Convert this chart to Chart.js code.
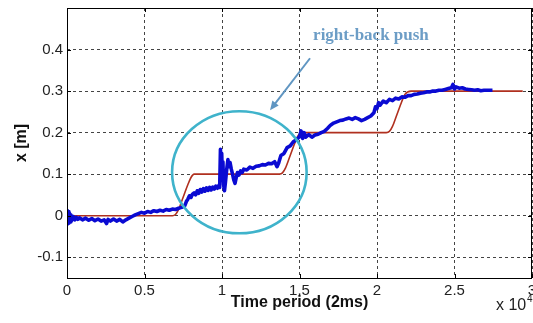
<!DOCTYPE html>
<html><head><meta charset="utf-8">
<script src="https://cdn.jsdelivr.net/npm/chart.js@4"></script>
<style>html,body{margin:0;padding:0;background:#fff;}#wrap{width:533px;height:323px;}</style>
</head><body><div id="wrap"><canvas id="c" width="533" height="323"></canvas></div>
<script>
// ---- data (x in units of 10^4 samples, y in metres) ----
const xTickValues = [0, 0.5, 1, 1.5, 2, 2.5, 3];
const yTickValues = [-0.1, 0, 0.1, 0.2, 0.3, 0.4];
const xAxisTitle = 'Time period (2ms)';
const yAxisTitle = 'x [m]';
const annotationLabel = 'right-back push';

const refX = [0, 0.68, 0.70, 0.72, 0.75, 0.78, 0.80, 0.82, 1.37, 1.39, 1.41, 1.44, 1.47, 1.49, 1.52, 2.06, 2.08, 2.10, 2.13, 2.16, 2.18, 2.22, 2.94];
const refY = [0, 0, 0.003, 0.015, 0.045, 0.075, 0.092, 0.1, 0.1, 0.103, 0.115, 0.145, 0.175, 0.192, 0.2, 0.2, 0.203, 0.215, 0.245, 0.275, 0.292, 0.3, 0.3];

const measX = [0.000,0.004,0.008,0.012,0.016,0.020,0.025,0.030,0.040,0.050,0.060,0.070,0.080,0.100,0.120,0.140,0.160,0.180,0.200,0.220,0.240,0.255,0.265,0.280,0.300,0.320,0.340,0.360,0.380,0.400,0.420,0.440,0.460,0.480,0.500,0.520,0.540,0.560,0.580,0.600,0.620,0.640,0.660,0.680,0.700,0.720,0.740,0.760,0.770,0.780,0.790,0.800,0.810,0.820,0.830,0.840,0.850,0.860,0.870,0.880,0.890,0.900,0.910,0.920,0.930,0.940,0.950,0.960,0.970,0.980,0.985,0.990,0.994,0.998,1.002,1.006,1.010,1.016,1.022,1.030,1.038,1.045,1.052,1.060,1.068,1.076,1.084,1.092,1.100,1.110,1.120,1.130,1.140,1.160,1.180,1.200,1.220,1.240,1.260,1.280,1.300,1.320,1.340,1.355,1.365,1.380,1.400,1.420,1.440,1.460,1.480,1.500,1.510,1.520,1.530,1.540,1.560,1.580,1.600,1.620,1.640,1.660,1.680,1.700,1.720,1.740,1.760,1.780,1.800,1.820,1.840,1.860,1.880,1.900,1.920,1.940,1.960,1.980,1.990,2.000,2.010,2.020,2.040,2.060,2.080,2.100,2.120,2.140,2.160,2.180,2.200,2.220,2.240,2.260,2.280,2.300,2.320,2.340,2.360,2.380,2.400,2.420,2.440,2.460,2.480,2.490,2.500,2.510,2.530,2.550,2.570,2.590,2.610,2.630,2.650,2.670,2.690,2.710,2.730,2.745];
const measY = [0.012,-0.020,0.010,-0.018,0.006,-0.015,0.002,-0.012,-0.002,-0.010,-0.004,-0.009,-0.005,-0.010,-0.006,-0.011,-0.007,-0.012,-0.008,-0.013,-0.010,-0.019,-0.009,-0.013,-0.008,-0.013,-0.009,-0.015,-0.010,-0.006,-0.002,0.002,0.005,0.008,0.006,0.010,0.008,0.012,0.010,0.013,0.011,0.015,0.013,0.016,0.015,0.018,0.020,0.024,0.034,0.040,0.048,0.044,0.052,0.055,0.050,0.060,0.054,0.063,0.057,0.065,0.059,0.067,0.061,0.068,0.062,0.069,0.064,0.071,0.066,0.073,0.068,0.160,0.085,0.150,0.100,0.130,0.075,0.060,0.080,0.110,0.135,0.118,0.128,0.112,0.100,0.086,0.078,0.092,0.104,0.098,0.108,0.104,0.112,0.110,0.117,0.114,0.119,0.120,0.123,0.122,0.126,0.125,0.130,0.118,0.126,0.145,0.150,0.164,0.168,0.178,0.183,0.190,0.204,0.186,0.200,0.189,0.195,0.189,0.194,0.196,0.200,0.203,0.210,0.218,0.223,0.226,0.229,0.230,0.233,0.235,0.232,0.236,0.233,0.229,0.232,0.236,0.240,0.248,0.262,0.258,0.272,0.266,0.276,0.272,0.280,0.277,0.283,0.281,0.286,0.285,0.289,0.289,0.292,0.293,0.295,0.296,0.298,0.298,0.300,0.300,0.302,0.302,0.304,0.306,0.308,0.316,0.305,0.310,0.307,0.308,0.305,0.304,0.303,0.302,0.303,0.301,0.302,0.302,0.302,0.302];

// ---- annotation geometry (data units) ----
const circleAnno = { cx: 1.112, cy: 0.1046, rx: 0.434, ry: 0.147 };
const arrowAnno = { x0: 1.568, y0: 0.379, x1: 1.31, y1: 0.254 };
const labelAnno = { x: 1.961, y: 0.433 };

const toPts = (xs, ys) => xs.map((x, i) => ({ x: x, y: ys[i] }));

const decor = {
  id: 'decor',
  afterDatasetsDraw(chart) {
    const { ctx, chartArea: a, scales: { x, y } } = chart;
    ctx.save();
    // circle
    ctx.beginPath();
    const cx = x.getPixelForValue(circleAnno.cx), cy = y.getPixelForValue(circleAnno.cy);
    const rx = x.getPixelForValue(circleAnno.cx + circleAnno.rx) - cx;
    const ry = cy - y.getPixelForValue(circleAnno.cy + circleAnno.ry);
    ctx.ellipse(cx, cy, rx, ry, 0, 0, Math.PI * 2);
    ctx.strokeStyle = '#3fb3cb';
    ctx.lineWidth = 2.6;
    ctx.stroke();
    // arrow
    const ax0 = x.getPixelForValue(arrowAnno.x0), ay0 = y.getPixelForValue(arrowAnno.y0);
    const ax1 = x.getPixelForValue(arrowAnno.x1), ay1 = y.getPixelForValue(arrowAnno.y1);
    const ang = Math.atan2(ay1 - ay0, ax1 - ax0);
    ctx.strokeStyle = '#6096c2';
    ctx.fillStyle = '#6096c2';
    ctx.lineWidth = 2;
    ctx.beginPath();
    ctx.moveTo(ax0, ay0);
    ctx.lineTo(ax1 - 6 * Math.cos(ang), ay1 - 6 * Math.sin(ang));
    ctx.stroke();
    ctx.beginPath();
    ctx.moveTo(ax1, ay1);
    ctx.lineTo(ax1 - 9 * Math.cos(ang) + 4 * Math.sin(ang), ay1 - 9 * Math.sin(ang) - 4 * Math.cos(ang));
    ctx.lineTo(ax1 - 9 * Math.cos(ang) - 4 * Math.sin(ang), ay1 - 9 * Math.sin(ang) + 4 * Math.cos(ang));
    ctx.closePath();
    ctx.fill();
    // label
    ctx.font = 'bold 17px "Liberation Serif", "Times New Roman", serif';
    ctx.fillStyle = '#6c9dc6';
    ctx.textAlign = 'center';
    ctx.textBaseline = 'middle';
    ctx.fillText(annotationLabel, x.getPixelForValue(labelAnno.x), y.getPixelForValue(labelAnno.y));
    // box
    ctx.strokeStyle = '#000';
    ctx.lineWidth = 1;
    ctx.strokeRect(Math.round(a.left) + 0.5, Math.round(a.top) + 0.5, Math.round(a.right - a.left) - 1, Math.round(a.bottom - a.top));
    // inward ticks
    ctx.beginPath();
    x.ticks.forEach((t, i) => {
      const px = Math.round(x.getPixelForTick(i)) + 0.5;
      ctx.moveTo(px, a.bottom); ctx.lineTo(px, a.bottom - 4);
      ctx.moveTo(px, a.top); ctx.lineTo(px, a.top + 4);
    });
    y.ticks.forEach((t, i) => {
      const py = Math.round(y.getPixelForTick(i)) + 0.5;
      ctx.moveTo(a.left, py); ctx.lineTo(a.left + 4, py);
      ctx.moveTo(a.right, py); ctx.lineTo(a.right - 4, py);
    });
    ctx.stroke();
    // exponent label
    ctx.fillStyle = '#222';
    ctx.textAlign = 'left';
    ctx.textBaseline = 'alphabetic';
    ctx.font = '16px "Liberation Sans", Arial, sans-serif';
    ctx.fillText('x 10', 496, 310);
    ctx.font = '10px "Liberation Sans", Arial, sans-serif';
    ctx.fillText('4', 527, 302);
    ctx.restore();
  }
};

const tickFont = { family: '"Liberation Sans", Arial, sans-serif', size: 15 };
const gridOpts = { color: '#444', lineWidth: 1, drawTicks: false };

new Chart(document.getElementById('c'), {
  type: 'line',
  data: {
    datasets: [
      { label: 'measured', data: toPts(measX, measY), borderColor: '#0a0ad2', borderWidth: 3.6, pointRadius: 0, tension: 0, borderJoinStyle: 'round' },
      { label: 'reference', data: toPts(refX, refY), borderColor: '#b0301f', borderWidth: 1.6, pointRadius: 0, cubicInterpolationMode: 'monotone' }
    ]
  },
  options: {
    responsive: false,
    animation: false,
    devicePixelRatio: 1,
    layout: { padding: { left: 0, right: 1, top: 8, bottom: 0 } },
    plugins: { legend: { display: false }, tooltip: { enabled: false } },
    scales: {
      x: {
        type: 'linear', min: 0, max: 3,
        afterBuildTicks: s => { s.ticks = xTickValues.map(v => ({ value: v })); },
        afterFit: s => { s.height = 45; s.paddingLeft = 0; s.paddingRight = 0; },
        ticks: { font: tickFont, color: '#222', padding: 4, maxRotation: 0, autoSkip: false, callback: v => String(v) },
        grid: gridOpts,
        border: { display: false, dash: [3, 3] },
        title: { display: true, text: xAxisTitle, color: '#111', font: { family: '"Liberation Sans", Arial, sans-serif', size: 16, weight: 'bold' }, padding: { top: 0, bottom: 11 } }
      },
      y: {
        type: 'linear', min: -0.15, max: 0.5,
        afterBuildTicks: s => { s.ticks = yTickValues.map(v => ({ value: v })); },
        afterFit: s => { s.width = 67; s.paddingTop = 0; s.paddingBottom = 0; },
        ticks: { font: tickFont, color: '#222', padding: 4, callback: v => String(Math.round(v * 10) / 10) },
        grid: gridOpts,
        border: { display: false, dash: [3, 3] },
        title: { display: true, text: yAxisTitle, color: '#111', font: { family: '"Liberation Sans", Arial, sans-serif', size: 16, weight: 'bold' }, padding: { top: 12, bottom: 0 } }
      }
    }
  },
  plugins: [decor]
});
</script>
</body></html>
